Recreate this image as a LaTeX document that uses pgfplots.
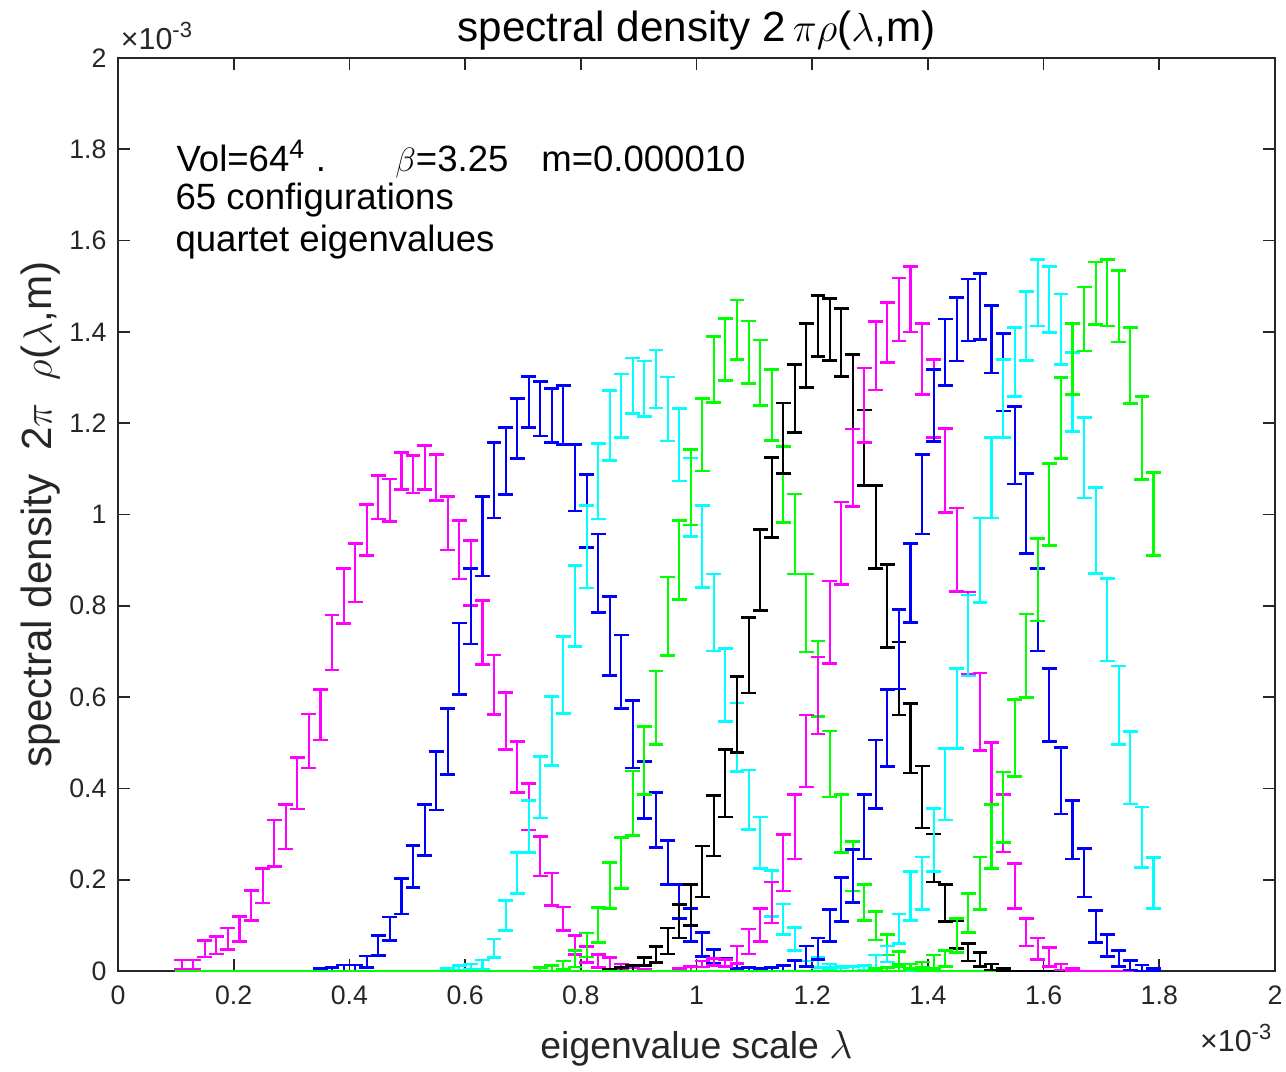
\documentclass[border=0pt]{standalone}
\usepackage{pgfplots}
\usepackage{pgfplotstable}
\pgfplotsset{compat=1.18}
\usepackage{fontspec}
\setmainfont{Liberation Sans}
\definecolor{mg}{rgb}{1,0,1}
\definecolor{bl}{rgb}{0,0,1}
\definecolor{cy}{rgb}{0,1,1}
\definecolor{gr}{rgb}{0,1,0}
\definecolor{bk}{rgb}{0,0,0}
\definecolor{tc}{HTML}{262626}

\pgfplotstableread{
x lo hi
0.11 0.004 0.024
0.13 0.004 0.024
0.15 0.031 0.067
0.17 0.037 0.075
0.19 0.047 0.094
0.21 0.064 0.119
0.23 0.110 0.176
0.25 0.149 0.224
0.27 0.229 0.331
0.29 0.267 0.365
0.31 0.355 0.467
0.33 0.445 0.563
0.35 0.506 0.616
0.37 0.659 0.780
0.39 0.761 0.882
0.41 0.808 0.936
0.43 0.910 1.022
0.45 0.990 1.086
0.47 0.984 1.078
0.49 1.055 1.136
0.51 1.047 1.129
0.53 1.055 1.151
0.55 1.031 1.132
0.57 0.922 1.039
0.59 0.859 0.987
0.61 0.800 0.943
0.63 0.672 0.812
0.65 0.562 0.692
0.67 0.485 0.610
0.69 0.391 0.502
0.71 0.309 0.411
0.73 0.208 0.295
0.75 0.143 0.215
0.77 0.088 0.140
0.79 0.036 0.078
0.81 0.018 0.054
0.83 0.007 0.036
0.85 0.004 0.029
0.87 0.002 0.015
0.89 0 0.008
0.91 0 0.004
}\sA

\pgfplotstableread{
x lo hi
0.35 0 0.005
0.37 0 0.008
0.39 0 0.013
0.41 0 0.013
0.43 0.008 0.033
0.45 0.034 0.078
0.47 0.067 0.118
0.49 0.125 0.202
0.51 0.183 0.275
0.53 0.253 0.365
0.55 0.353 0.481
0.57 0.431 0.575
0.59 0.605 0.762
0.61 0.716 0.882
0.63 0.865 1.039
0.65 0.992 1.157
0.67 1.044 1.190
0.69 1.123 1.254
0.71 1.190 1.303
0.73 1.172 1.292
0.75 1.158 1.276
0.77 1.153 1.282
0.79 1.008 1.153
0.81 0.928 1.087
0.83 0.785 0.957
0.85 0.648 0.820
0.87 0.575 0.736
0.89 0.445 0.592
0.91 0.334 0.459
0.93 0.271 0.391
0.95 0.190 0.286
0.97 0.115 0.189
0.99 0.065 0.137
1.01 0.032 0.084
1.03 0.017 0.047
1.05 0.009 0.027
1.07 0.005 0.017
1.09 0 0.008
1.11 0 0.004
}\sB

\pgfplotstableread{
x lo hi
0.57 0 0.005
0.59 0.002 0.012
0.61 0.004 0.015
0.63 0.004 0.024
0.65 0.030 0.070
0.67 0.089 0.154
0.69 0.170 0.259
0.71 0.259 0.373
0.73 0.335 0.470
0.75 0.450 0.601
0.77 0.564 0.732
0.79 0.711 0.888
0.81 0.839 1.020
0.83 0.990 1.156
0.85 1.118 1.272
0.87 1.169 1.308
0.89 1.221 1.343
0.91 1.215 1.336
0.93 1.233 1.360
0.95 1.161 1.301
0.97 1.073 1.232
0.99 0.952 1.124
1.01 0.840 1.019
1.03 0.701 0.870
1.05 0.547 0.707
1.07 0.437 0.587
1.09 0.310 0.440
1.11 0.225 0.337
1.13 0.120 0.220
1.15 0.080 0.147
1.17 0.045 0.095
1.19 0.022 0.055
1.21 0.008 0.030
1.23 0.002 0.015
1.25 0 0.008
}\sC

\pgfplotstableread{
x lo hi
0.73 0 0.008
0.75 0 0.012
0.77 0.004 0.022
0.79 0.009 0.045
0.81 0.031 0.083
0.83 0.063 0.139
0.85 0.137 0.237
0.87 0.181 0.292
0.89 0.297 0.438
0.91 0.386 0.536
0.93 0.496 0.657
0.95 0.691 0.863
0.97 0.814 0.987
0.99 0.977 1.142
1.01 1.095 1.254
1.03 1.245 1.390
1.05 1.294 1.429
1.07 1.339 1.470
1.09 1.287 1.424
1.11 1.239 1.382
1.13 1.162 1.318
1.15 0.982 1.149
1.17 0.870 1.045
1.19 0.699 0.870
1.21 0.558 0.723
1.23 0.381 0.526
1.25 0.259 0.386
1.27 0.175 0.283
1.29 0.110 0.190
1.31 0.068 0.130
1.33 0.035 0.080
1.35 0.015 0.042
1.37 0.005 0.015
1.39 0 0.008
}\sD

\pgfplotstableread{
x lo hi
0.85 0 0.004
0.87 0 0.008
0.89 0 0.012
0.91 0.012 0.030
0.93 0.019 0.054
0.95 0.037 0.094
0.97 0.072 0.145
0.99 0.100 0.190
1.01 0.162 0.274
1.03 0.252 0.384
1.05 0.337 0.485
1.07 0.479 0.645
1.09 0.609 0.775
1.11 0.790 0.967
1.13 0.950 1.125
1.15 1.090 1.244
1.17 1.179 1.328
1.19 1.278 1.418
1.21 1.346 1.480
1.23 1.338 1.473
1.25 1.303 1.451
1.27 1.187 1.350
1.29 1.063 1.229
1.31 0.882 1.063
1.33 0.708 0.890
1.35 0.561 0.721
1.37 0.434 0.586
1.39 0.313 0.449
1.41 0.195 0.300
1.43 0.108 0.190
1.45 0.050 0.110
1.47 0.022 0.060
1.49 0.010 0.040
1.51 0.002 0.015
1.53 0 0.006
}\sE

\pgfplotstableread{
x lo hi
0.97 0 0.005
0.99 0 0.010
1.01 0.009 0.022
1.03 0.012 0.027
1.05 0.010 0.025
1.07 0.017 0.055
1.09 0.037 0.092
1.11 0.065 0.137
1.13 0.105 0.195
1.15 0.175 0.299
1.17 0.245 0.386
1.19 0.403 0.561
1.21 0.519 0.688
1.23 0.674 0.854
1.25 0.847 1.027
1.27 1.017 1.187
1.29 1.157 1.321
1.31 1.273 1.423
1.33 1.333 1.465
1.35 1.380 1.518
1.37 1.400 1.543
1.39 1.263 1.418
1.41 1.169 1.340
1.43 1.004 1.189
1.45 0.832 1.014
1.47 0.650 0.830
1.49 0.483 0.653
1.51 0.366 0.501
1.53 0.261 0.386
1.55 0.137 0.235
1.57 0.055 0.115
1.59 0.025 0.072
1.61 0.010 0.052
1.63 0.002 0.015
1.65 0 0.005
}\sF

\pgfplotstableread{
x lo hi
1.11 0 0.005
1.13 0 0.008
1.15 0 0.012
1.17 0 0.023
1.19 0.010 0.055
1.21 0.025 0.072
1.23 0.065 0.135
1.25 0.108 0.205
1.27 0.150 0.266
1.29 0.245 0.386
1.31 0.356 0.506
1.33 0.448 0.616
1.35 0.618 0.792
1.37 0.764 0.937
1.39 0.957 1.132
1.41 1.160 1.318
1.43 1.283 1.428
1.45 1.336 1.476
1.47 1.380 1.516
1.49 1.384 1.528
1.51 1.310 1.458
1.53 1.227 1.396
1.55 1.067 1.237
1.57 0.914 1.090
1.59 0.701 0.882
1.61 0.502 0.663
1.63 0.344 0.489
1.65 0.245 0.373
1.67 0.162 0.268
1.69 0.063 0.133
1.71 0.032 0.080
1.73 0.010 0.045
1.75 0.002 0.023
1.77 0 0.013
1.79 0 0.005
}\sG

\pgfplotstableread{
x lo hi
1.23 0 0.008
1.25 0 0.010
1.27 0 0.010
1.29 0.002 0.012
1.31 0.005 0.035
1.33 0.020 0.055
1.35 0.060 0.125
1.37 0.110 0.218
1.39 0.135 0.250
1.41 0.218 0.356
1.43 0.331 0.488
1.45 0.488 0.663
1.47 0.646 0.824
1.49 0.807 0.992
1.51 0.992 1.169
1.53 1.169 1.340
1.55 1.258 1.410
1.57 1.338 1.488
1.59 1.413 1.558
1.61 1.398 1.543
1.63 1.328 1.483
1.65 1.182 1.355
1.67 1.036 1.212
1.69 0.870 1.059
1.71 0.679 0.860
1.73 0.496 0.668
1.75 0.366 0.524
1.77 0.227 0.359
1.79 0.137 0.248
}\sH

\pgfplotstableread{
x lo hi
1.31 0 0.005
1.33 0 0.008
1.35 0 0.010
1.37 0.002 0.015
1.39 0.003 0.020
1.41 0.005 0.035
1.43 0.010 0.045
1.45 0.040 0.115
1.47 0.085 0.170
1.49 0.135 0.250
1.51 0.225 0.364
1.53 0.281 0.436
1.55 0.426 0.594
1.57 0.599 0.782
1.59 0.767 0.947
1.61 0.932 1.112
1.63 1.122 1.300
1.65 1.263 1.418
1.67 1.358 1.498
1.69 1.416 1.553
1.71 1.413 1.558
1.73 1.378 1.535
1.75 1.243 1.410
1.77 1.077 1.258
1.79 0.910 1.092
}\sI

\pgfplotsset{
  ebar/.style={draw=none, mark=none, forget plot,
    error bars/.cd, y dir=both, y explicit,
    error mark=-,
    error bar style={draw=#1, line width=0.75pt},
    error mark options={draw=#1, rotate=90, mark size=2.65pt, line width=0.95pt}},
  zline/.style={draw=#1, line width=0.95pt, forget plot, mark=none},
}
\newcommand{\ebplot}[2]{%
  \addplot[ebar=#1] table[x=x, y expr={(\thisrow{lo}+\thisrow{hi})/2}, y error expr={(\thisrow{hi}-\thisrow{lo})/2}] {#2};}

\begin{document}
\begin{tikzpicture}
\useasboundingbox (-1.475,-1.2625) rectangle (14.6,12.1375);
\begin{axis}[
  at={(0,0)}, anchor=south west,
  scale only axis, width=14.4625cm, height=11.4125cm,
  xmin=0, xmax=2, ymin=0, ymax=2,
  xtick={0,0.2,...,2.01}, ytick={0,0.2,...,2.01},
  scaled ticks=false,
  tick align=inside, tick pos=both,
  major tick length=0.145cm,
  axis line style={draw=tc, line width=0.6pt},
  tick style={draw=tc, line width=0.6pt},
  ticklabel style={font=\fontsize{9.5}{11}\selectfont, text=tc},
  /pgf/number format/assume math mode=true,
  xticklabel style={yshift=-0.06cm},
  yticklabel style={xshift=-0.02cm},
  clip=false,
]
\addplot[zline=mg] coordinates {(0.918,0) (1.802,0)};
\ebplot{mg}{\sA}
\addplot[zline=bl] coordinates {(0.098,0) (0.342,0)};
\addplot[zline=bl] coordinates {(1.118,0) (1.802,0)};
\ebplot{bl}{\sB}
\addplot[zline=cy] coordinates {(0.098,0) (0.562,0)};
\addplot[zline=cy] coordinates {(1.258,0) (1.802,0)};
\ebplot{cy}{\sC}
\addplot[zline=gr] coordinates {(0.098,0) (0.722,0)};
\addplot[zline=gr] coordinates {(1.398,0) (1.802,0)};
\ebplot{gr}{\sD}
\addplot[zline=bk] coordinates {(0.098,0) (0.842,0)};
\addplot[zline=bk] coordinates {(1.538,0) (1.802,0)};
\ebplot{bk}{\sE}
\addplot[zline=mg] coordinates {(0.098,0) (0.962,0)};
\addplot[zline=mg] coordinates {(1.658,0) (1.802,0)};
\ebplot{mg}{\sF}
\addplot[zline=bl] coordinates {(0.098,0) (1.102,0)};
\ebplot{bl}{\sG}
\addplot[zline=cy] coordinates {(0.098,0) (1.222,0)};
\ebplot{cy}{\sH}
\addplot[zline=gr] coordinates {(0.098,0) (1.302,0)};
\ebplot{gr}{\sI}

\node[anchor=base west, font=\fontsize{13}{15}\selectfont, inner sep=0pt] at (axis cs:0.1003,1.752) {Vol=64$^{\mbox{\fontsize{9.5}{10}\selectfont 4}}$ .\hspace{1.9em}$\beta$=3.25\hspace{0.9em}m=0.000010};
\node[anchor=base west, font=\fontsize{13}{15}\selectfont, inner sep=0pt] at (axis cs:0.0985,1.669) {65 configurations};
\node[anchor=base west, font=\fontsize{13}{15}\selectfont, inner sep=0pt] at (axis cs:0.0985,1.575) {quartet eigenvalues};

\node[anchor=base, font=\fontsize{15}{18}\selectfont, inner sep=0pt] at ([yshift=0.21cm]rel axis cs:0.5,1) {spectral density 2\,$\pi\rho$($\lambda$,m)};
\node[anchor=base, font=\fontsize{13.3}{16}\selectfont, inner sep=0pt, text=tc] at ([yshift=-1.1cm]rel axis cs:0.5,0) {eigenvalue scale $\lambda$};
\node[anchor=base, rotate=90, font=\fontsize{15}{18}\selectfont, inner sep=0pt, text=tc] at ([xshift=-0.83cm]rel axis cs:0,0.5) {spectral density \ 2$\pi$ \ $\rho$($\lambda$,m)};

\node[anchor=base west, font=\fontsize{10.8}{12}\selectfont, inner sep=0pt, text=tc] at ([yshift=0.11cm,xshift=0.03cm]rel axis cs:0,1) {×10\raisebox{0.75ex}{\fontsize{7.8}{8}\selectfont -3}};
\node[anchor=base east, font=\fontsize{10.8}{12}\selectfont, inner sep=0pt, text=tc] at ([yshift=-1.0125cm,xshift=-0.04cm]rel axis cs:1,0) {×10\raisebox{0.75ex}{\fontsize{7.8}{8}\selectfont -3}};
\end{axis}
\end{tikzpicture}
\end{document}
